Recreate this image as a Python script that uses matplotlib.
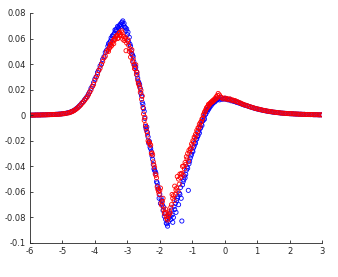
import matplotlib
matplotlib.use("Agg")
import matplotlib.pyplot as plt

x_left = [-6.00, -5.95, -5.90, -5.85, -5.80, -5.75, -5.70, -5.65, -5.60, -5.55, -5.50, -5.45,
          -5.40, -5.35, -5.30, -5.25, -5.20, -5.15, -5.10, -5.05, -5.00, -4.95, -4.90, -4.85]
x_mid = [-4.80, -4.76, -4.72, -4.68, -4.64, -4.60, -4.56, -4.52, -4.48, -4.44, -4.40, -4.36,
         -4.32, -4.28, -4.24, -4.20, -4.16, -4.12, -4.08, -4.04, -4.00, -3.96, -3.92, -3.88,
         -3.84, -3.80, -3.76, -3.72, -3.68, -3.64, -3.60, -3.56, -3.52, -3.48, -3.44, -3.40,
         -3.36, -3.32, -3.28, -3.24, -3.20, -3.16, -3.12, -3.08, -3.04, -3.00, -2.96, -2.92,
         -2.88, -2.84, -2.80, -2.76, -2.72, -2.68, -2.64, -2.60, -2.56, -2.52, -2.48, -2.44,
         -2.40, -2.36, -2.32, -2.28, -2.24, -2.20, -2.16, -2.12, -2.08, -2.04, -2.00, -1.96,
         -1.92, -1.88, -1.84, -1.80, -1.76, -1.72, -1.68, -1.64, -1.60, -1.56, -1.52, -1.48,
         -1.44, -1.40, -1.36, -1.32, -1.28, -1.24, -1.20, -1.16, -1.12, -1.08, -1.04, -1.00,
         -0.96, -0.92, -0.88, -0.84, -0.80, -0.76, -0.72, -0.68, -0.64, -0.60, -0.56, -0.52,
         -0.48, -0.44, -0.40, -0.36, -0.32, -0.28, -0.24, -0.20, -0.16, -0.12, -0.08, -0.04,
         0.00, 0.04, 0.08, 0.12, 0.16, 0.20, 0.24, 0.28, 0.32, 0.36, 0.40, 0.44,
         0.48, 0.52, 0.56, 0.60]
x_right = [0.65, 0.70, 0.75, 0.80, 0.85, 0.90, 0.95, 1.00, 1.05, 1.10, 1.15, 1.20,
           1.25, 1.30, 1.35, 1.40, 1.45, 1.50, 1.55, 1.60, 1.65, 1.70, 1.75, 1.80,
           1.85, 1.90, 1.95, 2.00, 2.05, 2.10, 2.15, 2.20, 2.25, 2.30, 2.35, 2.40,
           2.45, 2.50, 2.55, 2.60, 2.65, 2.70, 2.75, 2.80, 2.85, 2.90, 2.95, 3.00]
x_extra = [-3.58, -3.54, -3.50, -3.46, -3.42, -3.38, -3.34, -3.30, -3.26, -3.22, -3.18, -3.14,
           -3.10, -3.06, -3.02, -2.98, -2.94, -2.90, -2.86, -2.82, -2.78, -2.74, -2.70, -2.66,
           -2.62, -2.58, -2.54, -2.50, -2.46, -2.42, -2.38, -2.34, -2.30, -2.26, -2.22, -2.18,
           -2.14, -2.10, -2.06, -2.02, -1.98, -1.94, -1.90, -1.86, -1.82, -1.78, -1.74, -1.70,
           -1.66, -1.62, -1.58, -1.54, -1.50, -1.46, -1.42, -1.38, -1.34, -1.30, -1.26, -1.22,
           -1.18, -1.14, -1.10, -1.06, -1.02, -0.98, -0.94, -0.90, -0.86, -0.82, -0.78, -0.74,
           -0.70, -0.66, -0.62, -0.58, -0.54, -0.50, -0.46, -0.42, -0.38, -0.34, -0.30, -0.26,
           -0.22]

blue_left = [0.0001, 0.0001, 0.0001, 0.0002, 0.0002, 0.0002, 0.0002, 0.0003, 0.0003, 0.0003, 0.0004, 0.0004,
             0.0005, 0.0005, 0.0006, 0.0006, 0.0007, 0.0008, 0.0009, 0.0010, 0.0011, 0.0013, 0.0015, 0.0018]
blue_mid = [0.0021, 0.0024, 0.0028, 0.0033, 0.0038, 0.0046, 0.0054, 0.0062, 0.0073, 0.0082, 0.0096, 0.0106,
            0.0120, 0.0132, 0.0147, 0.0166, 0.0183, 0.0210, 0.0226, 0.0255, 0.0283, 0.0301, 0.0335, 0.0352,
            0.0385, 0.0402, 0.0437, 0.0458, 0.0492, 0.0508, 0.0540, 0.0548, 0.0580, 0.0596, 0.0619, 0.0642,
            0.0660, 0.0658, 0.0689, 0.0702, 0.0693, 0.0728, 0.0705, 0.0690, 0.0662, 0.0631, 0.0575, 0.0556,
            0.0505, 0.0470, 0.0418, 0.0380, 0.0342, 0.0290, 0.0252, 0.0210, 0.0150, 0.0085, 0.0030, -0.0088,
            -0.0092, -0.0170, -0.0205, -0.0262, -0.0318, -0.0386, -0.0432, -0.0455, -0.0530, -0.0575, -0.0618, -0.0650,
            -0.0702, -0.0720, -0.0770, -0.0845, -0.0868, -0.0805, -0.0790, -0.0742, -0.0838, -0.0715, -0.0690, -0.0668,
            -0.0635, -0.0610, -0.0565, -0.0828, -0.0520, -0.0475, -0.0462, -0.0405, -0.0588, -0.0360, -0.0318, -0.0280,
            -0.0255, -0.0218, -0.0190, -0.0168, -0.0128, -0.0105, -0.0072, -0.0045, -0.0012, 0.0005, 0.0035, 0.0048,
            0.0065, 0.0082, 0.0090, 0.0098, 0.0112, 0.0115, 0.0125, 0.0128, 0.0120, 0.0138, 0.0125, 0.0130,
            0.0126, 0.0132, 0.0122, 0.0120, 0.0124, 0.0113, 0.0116, 0.0108, 0.0110, 0.0101, 0.0103, 0.0095,
            0.0094, 0.0088, 0.0085, 0.0080]
blue_right = [0.0077, 0.0073, 0.0068, 0.0064, 0.0060, 0.0056, 0.0052, 0.0049, 0.0046, 0.0043, 0.0040, 0.0037,
              0.0035, 0.0032, 0.0030, 0.0028, 0.0026, 0.0024, 0.0023, 0.0021, 0.0020, 0.0018, 0.0017, 0.0016,
              0.0015, 0.0014, 0.0013, 0.0012, 0.0011, 0.0011, 0.0010, 0.0009, 0.0009, 0.0008, 0.0008, 0.0007,
              0.0007, 0.0006, 0.0006, 0.0005, 0.0005, 0.0005, 0.0004, 0.0004, 0.0004, 0.0003, 0.0003, 0.0003]
blue_extra = [0.0560, 0.0572, 0.0605, 0.0622, 0.0630, 0.0668, 0.0672, 0.0695, 0.0680, 0.0712, 0.0722, 0.0738,
              0.0718, 0.0685, 0.0675, 0.0650, 0.0610, 0.0540, 0.0480, 0.0460, 0.0395, 0.0375, 0.0315, 0.0262,
              0.0238, 0.0170, 0.0100, 0.0052, -0.0025, -0.0110, -0.0135, -0.0220, -0.0250, -0.0285, -0.0345, -0.0420,
              -0.0440, -0.0520, -0.0555, -0.0650, -0.0690, -0.0668, -0.0745, -0.0790, -0.0815, -0.0850, -0.0835, -0.0772,
              -0.0815, -0.0780, -0.0800, -0.0738, -0.0760, -0.0650, -0.0700, -0.0620, -0.0650, -0.0545, -0.0505, -0.0490,
              -0.0430, -0.0415, -0.0380, -0.0335, -0.0305, -0.0285, -0.0242, -0.0220, -0.0185, -0.0160, -0.0140, -0.0098,
              -0.0080, -0.0040, -0.0030, 0.0010, 0.0028, 0.0045, 0.0060, 0.0075, 0.0088, 0.0100, 0.0105, 0.0118,
              0.0122]

red_left = [0.0001, 0.0001, 0.0001, 0.0001, 0.0002, 0.0002, 0.0002, 0.0002, 0.0003, 0.0003, 0.0003, 0.0004,
            0.0004, 0.0005, 0.0005, 0.0006, 0.0007, 0.0007, 0.0008, 0.0009, 0.0011, 0.0012, 0.0014, 0.0017]
red_mid = [0.0019, 0.0023, 0.0027, 0.0031, 0.0037, 0.0044, 0.0051, 0.0060, 0.0070, 0.0080, 0.0092, 0.0103,
           0.0116, 0.0130, 0.0142, 0.0160, 0.0180, 0.0198, 0.0225, 0.0240, 0.0272, 0.0298, 0.0318, 0.0350,
           0.0368, 0.0398, 0.0420, 0.0448, 0.0462, 0.0495, 0.0510, 0.0522, 0.0555, 0.0548, 0.0585, 0.0598,
           0.0612, 0.0625, 0.0605, 0.0648, 0.0632, 0.0645, 0.0618, 0.0600, 0.0505, 0.0582, 0.0548, 0.0520,
           0.0485, 0.0420, 0.0395, 0.0362, 0.0320, 0.0275, 0.0238, 0.0180, 0.0125, 0.0060, -0.0040, -0.0075,
           -0.0128, -0.0200, -0.0215, -0.0235, -0.0295, -0.0365, -0.0410, -0.0470, -0.0560, -0.0598, -0.0590, -0.0688,
           -0.0675, -0.0740, -0.0758, -0.0795, -0.0820, -0.0778, -0.0765, -0.0700, -0.0650, -0.0668, -0.0620, -0.0570,
           -0.0595, -0.0540, -0.0488, -0.0455, -0.0470, -0.0420, -0.0385, -0.0342, -0.0360, -0.0290, -0.0265, -0.0240,
           -0.0210, -0.0178, -0.0160, -0.0130, -0.0102, -0.0085, -0.0050, -0.0025, 0.0010, 0.0030, 0.0058, 0.0070,
           0.0078, 0.0095, 0.0100, 0.0108, 0.0118, 0.0128, 0.0135, 0.0170, 0.0158, 0.0142, 0.0135, 0.0128,
           0.0135, 0.0126, 0.0130, 0.0122, 0.0128, 0.0118, 0.0120, 0.0112, 0.0115, 0.0106, 0.0105, 0.0099,
           0.0096, 0.0090, 0.0086, 0.0082]
red_right = [0.0078, 0.0074, 0.0069, 0.0065, 0.0061, 0.0057, 0.0053, 0.0050, 0.0047, 0.0044, 0.0041, 0.0038,
             0.0036, 0.0033, 0.0031, 0.0029, 0.0027, 0.0025, 0.0023, 0.0022, 0.0020, 0.0019, 0.0017, 0.0016,
             0.0015, 0.0014, 0.0013, 0.0012, 0.0012, 0.0011, 0.0010, 0.0010, 0.0009, 0.0008, 0.0008, 0.0007,
             0.0007, 0.0006, 0.0006, 0.0006, 0.0005, 0.0005, 0.0004, 0.0004, 0.0004, 0.0003, 0.0003, 0.0003]
red_extra = [0.0500, 0.0532, 0.0540, 0.0570, 0.0560, 0.0592, 0.0618, 0.0600, 0.0640, 0.0622, 0.0660, 0.0595,
             0.0585, 0.0610, 0.0565, 0.0590, 0.0500, 0.0455, 0.0512, 0.0440, 0.0365, 0.0395, 0.0335, 0.0250,
             0.0220, 0.0195, 0.0150, 0.0010, -0.0015, -0.0100, -0.0155, -0.0210, -0.0228, -0.0300, -0.0310, -0.0390,
             -0.0460, -0.0490, -0.0580, -0.0620, -0.0570, -0.0705, -0.0650, -0.0770, -0.0735, -0.0810, -0.0790, -0.0755,
             -0.0720, -0.0620, -0.0630, -0.0555, -0.0585, -0.0480, -0.0500, -0.0460, -0.0460, -0.0400, -0.0398, -0.0370,
             -0.0325, -0.0300, -0.0275, -0.0262, -0.0225, -0.0200, -0.0172, -0.0150, -0.0120, -0.0098, -0.0070, -0.0055,
             -0.0030, 0.0000, 0.0025, 0.0045, 0.0060, 0.0085, 0.0090, 0.0102, 0.0112, 0.0120, 0.0130, 0.0145,
             0.0155]

x_vals = x_left + x_mid + x_right + x_extra
blue_vals = blue_left + blue_mid + blue_right + blue_extra
red_vals = red_left + red_mid + red_right + red_extra

x_ticks = [-6, -5, -4, -3, -2, -1, 0, 1, 2, 3]
y_ticks = [-0.1, -0.08, -0.06, -0.04, -0.02, 0, 0.02, 0.04, 0.06, 0.08]
y_tick_labels = ["-0.1", "-0.08", "-0.06", "-0.04", "-0.02", "0", "0.02", "0.04", "0.06", "0.08"]

fig = plt.figure(figsize=(3.38, 2.77), dpi=100)
ax = fig.add_axes([30 / 338, 34 / 277, 292 / 338, 230 / 277])

ax.scatter(x_vals, blue_vals, s=9, facecolors="none", edgecolors=(0, 0, 1), linewidths=0.6)
ax.scatter(x_vals, red_vals, s=9, facecolors="none", edgecolors=(1, 0, 0), linewidths=0.6)

ax.set_xlim(-6, 3)
ax.set_ylim(-0.1, 0.08)
ax.set_xticks(x_ticks)
ax.set_xticklabels([str(t) for t in x_ticks])
ax.set_yticks(y_ticks)
ax.set_yticklabels(y_tick_labels)

axis_color = "#262626"
for side in ["top", "right"]:
    ax.spines[side].set_visible(False)
for side in ["left", "bottom"]:
    ax.spines[side].set_color(axis_color)
    ax.spines[side].set_linewidth(0.6)
ax.tick_params(direction="in", length=2.5, width=0.6, colors=axis_color, labelsize=6, pad=3)

fig.savefig("out.png", dpi=100)
